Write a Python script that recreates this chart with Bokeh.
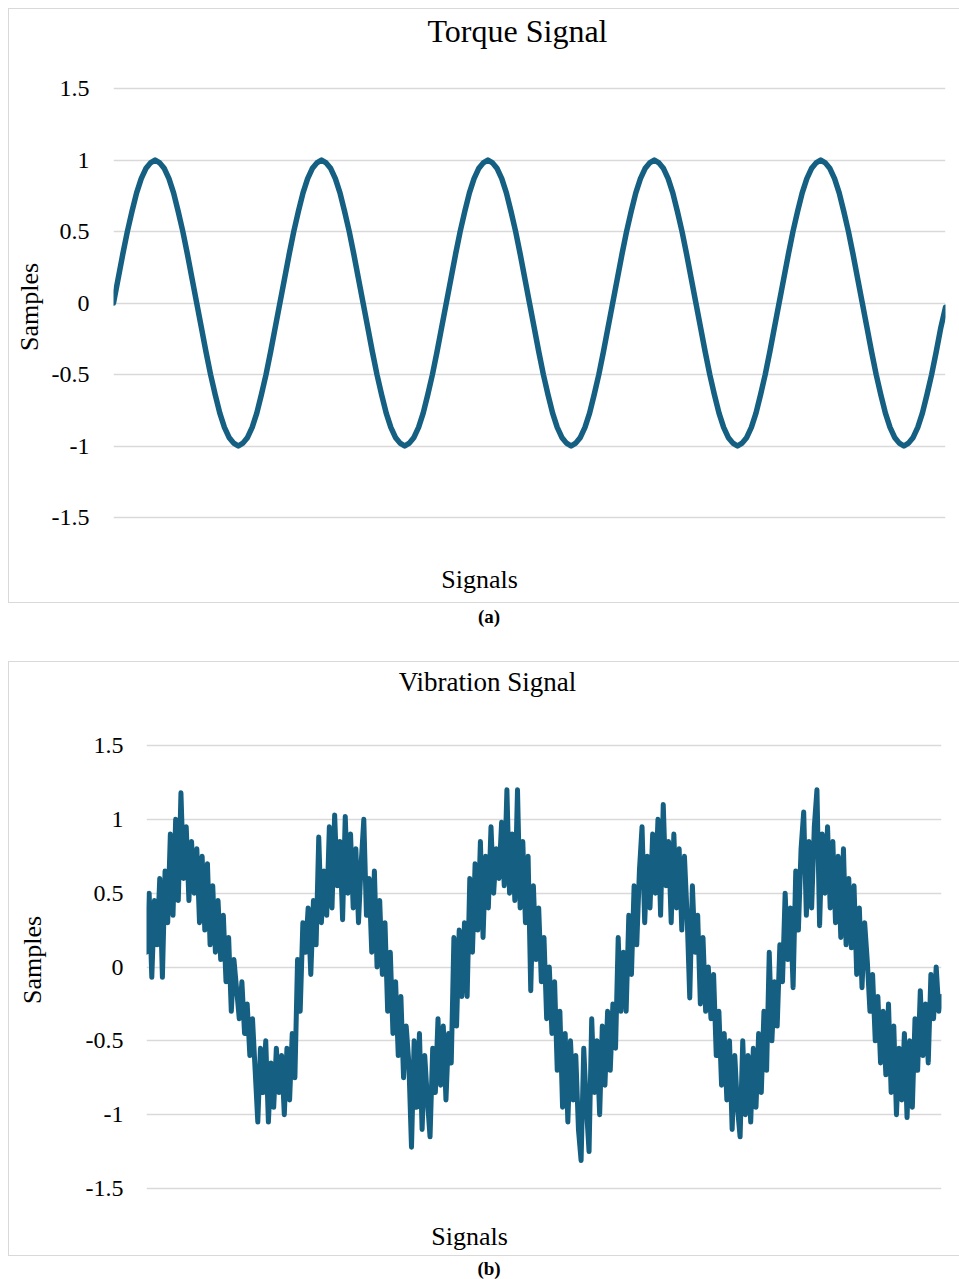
from bokeh.plotting import figure
from bokeh.models import Label, FixedTicker, Div, Range1d
from bokeh.layouts import column, row
from bokeh.embed import file_html
from bokeh.resources import INLINE

# ---------------- data ----------------
y_ticks = [-1.5, -1, -0.5, 0, 0.5, 1, 1.5]
y_tick_labels = ["-1.5", "-1", "-0.5", "0", "0.5", "1", "1.5"]

torque_title = "Torque Signal"
vibration_title = "Vibration Signal"
x_title = "Signals"
y_title = "Samples"
captions = ["(a)", "(b)"]

torque = [
    0.00, 0.17, 0.34, 0.50, 0.64, 0.77, 0.87, 0.94, 0.98, 1.00, 0.98, 0.94,
    0.87, 0.77, 0.64, 0.50, 0.34, 0.17, 0.00, -0.17, -0.34, -0.50, -0.64, -0.77,
    -0.87, -0.94, -0.98, -1.00, -0.98, -0.94, -0.87, -0.77, -0.64, -0.50, -0.34, -0.17,
    0.00, 0.17, 0.34, 0.50, 0.64, 0.77, 0.87, 0.94, 0.98, 1.00, 0.98, 0.94,
    0.87, 0.77, 0.64, 0.50, 0.34, 0.17, 0.00, -0.17, -0.34, -0.50, -0.64, -0.77,
    -0.87, -0.94, -0.98, -1.00, -0.98, -0.94, -0.87, -0.77, -0.64, -0.50, -0.34, -0.17,
    0.00, 0.17, 0.34, 0.50, 0.64, 0.77, 0.87, 0.94, 0.98, 1.00, 0.98, 0.94,
    0.87, 0.77, 0.64, 0.50, 0.34, 0.17, 0.00, -0.17, -0.34, -0.50, -0.64, -0.77,
    -0.87, -0.94, -0.98, -1.00, -0.98, -0.94, -0.87, -0.77, -0.64, -0.50, -0.34, -0.17,
    0.00, 0.17, 0.34, 0.50, 0.64, 0.77, 0.87, 0.94, 0.98, 1.00, 0.98, 0.94,
    0.87, 0.77, 0.64, 0.50, 0.34, 0.17, 0.00, -0.17, -0.34, -0.50, -0.64, -0.77,
    -0.87, -0.94, -0.98, -1.00, -0.98, -0.94, -0.87, -0.77, -0.64, -0.50, -0.34, -0.17,
    0.00, 0.17, 0.34, 0.50, 0.64, 0.77, 0.87, 0.94, 0.98, 1.00, 0.98, 0.94,
    0.87, 0.77, 0.64, 0.50, 0.34, 0.17, 0.00, -0.17, -0.34, -0.50, -0.64, -0.77,
    -0.87, -0.94, -0.98, -1.00, -0.98, -0.94, -0.87, -0.77, -0.64, -0.50, -0.34, -0.17,
    -0.03,
]

vibration = [
    # period 1
    0.10, 0.50, -0.07, 0.45, 0.15, 0.60, -0.07, 0.65, 0.30, 0.90,
    0.35, 1.00, 0.45, 1.18, 0.60, 0.95, 0.45, 0.85, 0.50, 0.80,
    0.30, 0.75, 0.25, 0.70, 0.15, 0.55, 0.10, 0.45, 0.05, 0.35,
    -0.10, 0.20, -0.30, 0.05, -0.15, -0.35, -0.10, -0.45, -0.25, -0.60,
    -0.35, -0.70, -1.05, -0.55, -0.85, -0.50, -1.05, -0.65, -0.95, -0.55,
    -0.85, -0.60, -1.00, -0.55, -0.90, -0.45, -0.75, 0.05, -0.30, 0.30,
    # period 2
    0.10, 0.40, -0.05, 0.45, 0.15, 0.88, 0.30, 0.65, 0.35, 0.95,
    0.40, 1.03, 0.55, 0.85, 0.32, 1.02, 0.50, 0.90, 0.40, 0.80,
    0.30, 0.70, 1.00, 0.35, 0.60, 0.10, 0.65, 0.00, 0.45, -0.05,
    0.30, -0.30, 0.10, -0.45, -0.10, -0.60, -0.20, -0.75, -0.40, -0.65,
    -1.22, -0.50, -0.95, -0.45, -1.10, -0.60, -0.90, -1.15, -0.55, -0.85,
    -0.35, -0.80, -0.40, -0.90, -0.45, -0.65, 0.20, -0.40, 0.25, -0.20,
    # period 3
    0.30, -0.20, 0.60, 0.10, 0.70, 0.25, 0.85, 0.20, 0.75, 0.40,
    0.95, 0.50, 0.80, 0.60, 0.98, 0.55, 1.20, 0.50, 0.90, 0.45,
    1.20, 0.40, 0.85, 0.30, 0.75, -0.16, 0.55, 0.05, 0.40, -0.10,
    0.20, -0.35, 0.00, -0.45, -0.10, -0.70, -0.30, -0.95, -0.45, -1.05,
    -0.50, -0.90, -0.60, -1.10, -1.31, -0.55, -0.95, -1.25, -0.35, -0.85,
    -0.50, -1.00, -0.40, -0.80, -0.30, -0.70, -0.25, -0.55, 0.20, -0.30,
    # period 4
    0.10, -0.30, 0.35, -0.05, 0.55, 0.15, 0.65, 0.95, 0.30, 0.75,
    0.40, 0.90, 0.50, 1.00, 0.35, 1.10, 0.55, 0.85, 0.30, 0.90,
    0.40, 0.80, 0.25, 0.75, 0.35, -0.21, 0.55, 0.10, 0.35, -0.25,
    0.20, -0.30, 0.00, -0.35, -0.05, -0.60, -0.30, -0.80, -0.45, -0.90,
    -0.50, -1.10, -0.60, -0.95, -1.15, -0.50, -1.00, -0.60, -1.05, -0.55,
    -0.95, -0.45, -0.85, -0.30, -0.70, 0.10, -0.50, -0.10, -0.40, 0.15,
    # period 5
    -0.10, 0.50, 0.05, 0.40, -0.14, 0.65, 0.25, 0.80, 1.05, 0.35,
    0.85, 0.40, 0.95, 1.20, 0.28, 0.90, 0.50, 0.95, 0.40, 0.85,
    0.30, 0.75, 0.20, 0.80, 0.15, 0.60, 0.13, 0.55, -0.05, 0.40,
    -0.14, 0.30, 0.04, -0.30, -0.05, -0.50, -0.20, -0.65, -0.30, -0.73,
    -0.25, -0.85, -0.40, -1.00, -0.55, -0.90, -0.45, -1.02, -0.50, -0.95,
    -0.35, -0.70, -0.16, -0.60, -0.25, -0.65, -0.05, -0.35, 0.00, -0.30,
    -0.20,
]

# ---------------- style ----------------
FONT = "Liberation Serif"
LINE = "#156082"
GRID = "#d9d9d9"
BOX = "1px solid #d9d9d9"
CANVAS_W, CANVAS_H = 951, 595


def make_chart(values, title, title_size, origin, plot_box, label_standoff,
               ylab_standoff, title_pos, xlab_pos, line_width):
    ox, oy = origin                  # canvas top-left on the page
    x0, x1, y_top, y_bot = plot_box  # page pixels of first/last sample and of 1.5/-1.5
    n = len(values)
    xs = list(range(n))

    def y_at(py):
        return 1.5 - (py - y_top) / (y_bot - y_top) * 3.0

    def x_at(px):
        return (px - x0) / (x1 - x0) * (n - 1)

    left = x0 - ox
    right = CANVAS_W - left - (x1 - x0)
    p = figure(
        width=CANVAS_W, height=CANVAS_H,
        min_border_left=left, min_border_right=right,
        min_border_top=0, min_border_bottom=0,
        x_range=Range1d(0, n - 1),
        y_range=Range1d(y_at(oy + CANVAS_H), y_at(oy)),
        output_backend="svg", toolbar_location=None,
        background_fill_color="white", border_fill_color="white",
        outline_line_color=None,
        styles={"border-left": BOX, "border-top": BOX, "border-bottom": BOX,
                "box-sizing": "border-box"},
    )
    p.xaxis.visible = False
    p.xgrid.visible = False
    p.ygrid.grid_line_color = GRID
    p.ygrid.grid_line_width = 1.5
    p.ygrid.ticker = FixedTicker(ticks=y_ticks)

    ax = p.yaxis[0]
    ax.ticker = FixedTicker(ticks=y_ticks)
    ax.major_label_overrides = {t: l for t, l in zip(y_ticks, y_tick_labels)}
    ax.axis_line_color = None
    ax.major_tick_line_color = None
    ax.minor_tick_line_color = None
    ax.major_tick_out = 0
    ax.major_tick_in = 0
    ax.minor_tick_out = 0
    ax.major_label_standoff = label_standoff
    ax.major_label_text_font = FONT
    ax.major_label_text_font_size = "24px"
    ax.major_label_text_color = "black"
    ax.axis_label = y_title
    ax.axis_label_text_font = FONT
    ax.axis_label_text_font_size = "26px"
    ax.axis_label_text_font_style = "normal"
    ax.axis_label_text_color = "black"
    ax.axis_label_standoff = ylab_standoff

    p.line(xs, values, line_color=LINE, line_width=line_width,
           line_join="round", line_cap="round")

    p.add_layout(Label(x=x_at(title_pos[0]), y=y_at(title_pos[1]), text=title,
                       text_font=FONT, text_font_size=title_size,
                       text_color="black", text_align="center",
                       text_baseline="middle"))
    p.add_layout(Label(x=x_at(xlab_pos[0]), y=y_at(xlab_pos[1]), text=x_title,
                       text_font=FONT, text_font_size="26px",
                       text_color="black", text_align="center",
                       text_baseline="middle"))
    return p


p1 = make_chart(torque, torque_title, "32px", (8, 8), (112, 944, 87, 516),
                24, 5, (516, 29), (478, 578), 5.5)
p1.margin = (8, 0, 0, 8)

p2 = make_chart(vibration, vibration_title, "27px", (8, 661), (145, 940, 744, 1187),
                23, 36, (486, 680), (468, 1235), 5)
p2.margin = (0, 0, 0, 8)

cap_style = ("font-family:'Liberation Serif';font-weight:bold;font-size:19px;"
             "line-height:19px;text-align:center;width:959px;padding-left:19px;"
             "box-sizing:border-box;color:black;")
div_a = Div(text=f'<div style="{cap_style}padding-top:4px;">{captions[0]}</div>',
            width=959, height=58, margin=(0, 0, 0, 0))
div_b = Div(text=f'<div style="{cap_style}padding-top:3px;">{captions[1]}</div>',
            width=959, height=23, margin=(0, 0, 0, 0))

layout = column(row(p1), div_a, row(p2), div_b, spacing=0)

with open("out.html", "w") as f:
    f.write(file_html(layout, INLINE))
